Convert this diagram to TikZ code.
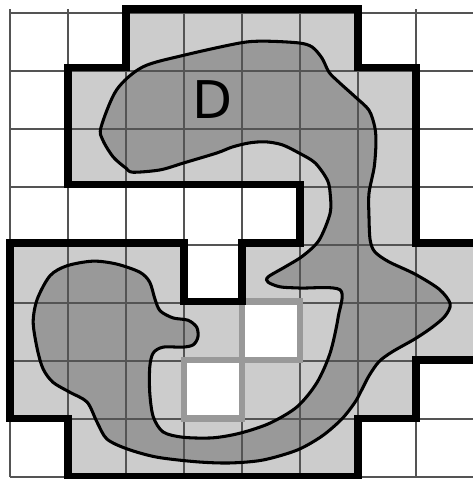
\documentclass[tikz,border=0pt]{standalone}
\usepackage{fontspec}
\setsansfont{DejaVu Sans}
\usepackage{tikz}

\begin{document}
\begin{tikzpicture}[x=1cm,y=1.0086cm,cellfill/.style={fill=black!20},blobfill/.style={fill=black!40},gridline/.style={draw=black!67,line width=1pt},blobline/.style={draw=black,line width=1.5pt},holebox/.style={draw=black!40,line width=3.2pt,fill=white},outline/.style={draw=black,line width=3.9pt}]
\useasboundingbox (-0.172,-0.034) rectangle (7.966,8.154);
\foreach \y/\l in %
{7/{2,3,4,5},6/{1,2,3,4,5,6},5/{1,2,3,4,5,6},4/{5,6},3/{0,1,2,4,5,6,7},2/{0,1,2,3,5,6,7},1/{0,1,2,4,5,6},0/{1,2,3,4,5}} {
   \foreach \x in \l {
      \fill[cellfill] (\x,\y) rectangle +(1,1);
   }
}
\path[save path=\blobpath] plot[smooth cycle,tension=0.5] coordinates {%
   (1.57,5.98) (1.84,6.62) (2.29,7.01) (3.00,7.21) (3.97,7.42) (4.40,7.45)
   (4.98,7.42) (5.21,7.35) (5.38,7.16) (5.50,6.92) (5.67,6.75) (5.95,6.50)
   (6.19,6.27) (6.29,5.98) (6.31,5.71) (6.28,5.30) (6.19,4.85) (6.19,4.44)
   (6.21,4.05) (6.29,3.85) (6.53,3.68) (6.98,3.47) (7.40,3.21) (7.59,2.96)
   (7.50,2.75) (7.28,2.56) (6.98,2.36) (6.59,2.14) (6.36,1.97) (6.19,1.73)
   (6.07,1.50) (5.95,1.28) (5.72,0.99) (5.38,0.70) (4.95,0.46) (4.36,0.29)
   (3.79,0.24) (3.22,0.26) (2.53,0.34) (2.02,0.48) (1.67,0.65) (1.50,0.94)
   (1.33,1.28) (1.03,1.45) (0.74,1.62) (0.57,1.85) (0.47,2.19) (0.40,2.65)
   (0.47,3.04) (0.69,3.44) (0.98,3.61) (1.43,3.69) (1.84,3.64) (2.24,3.50)
   (2.41,3.33) (2.50,3.04) (2.59,2.84) (2.81,2.72) (3.07,2.68) (3.22,2.56)
   (3.24,2.39) (3.16,2.26) (2.98,2.22) (2.64,2.22) (2.47,2.12) (2.41,1.88)
   (2.41,1.44) (2.47,1.03) (2.64,0.77) (2.98,0.68) (3.50,0.67) (3.97,0.75)
   (4.48,0.92) (4.95,1.20) (5.29,1.61) (5.52,2.12) (5.66,2.74) (5.69,3.20)
   (5.00,3.23) (4.66,3.25) (4.45,3.33) (4.45,3.42) (4.74,3.59) (5.05,3.78)
   (5.33,4.05) (5.52,4.51) (5.52,4.85) (5.47,5.08) (5.26,5.37) (4.98,5.54)
   (4.69,5.68) (4.40,5.73) (4.12,5.71) (3.83,5.64) (3.57,5.54) (3.00,5.37)
   (2.59,5.25) (2.12,5.21) (2.00,5.28) (1.78,5.47) (1.60,5.76)};
\fill[blobfill,use path=\blobpath];
\draw[gridline] (0,0) grid (8.2,8);
\draw[blobline,use path=\blobpath];
\foreach \x/\y in {4/2,3/1} {
   \draw[holebox] (\x,\y) rectangle +(1,1);
}
\draw[outline] (8.2,2) -- (7,2) -- (7,1) -- (6,1) -- (6,0) -- (1,0) -- (1,1) -- (0,1) -- (0,4) -- (3,4) -- (3,3) -- (4,3) -- (4,4) -- (5,4) -- (5,5) -- (1,5) -- (1,7) -- (2,7) -- (2,8) -- (6,8) -- (6,7) -- (7,7) -- (7,4) -- (8.2,4);
\node (lbl) at (3.50,6.46) {\sffamily\fontsize{25.5}{30}\selectfont D};
\end{tikzpicture}
\end{document}
